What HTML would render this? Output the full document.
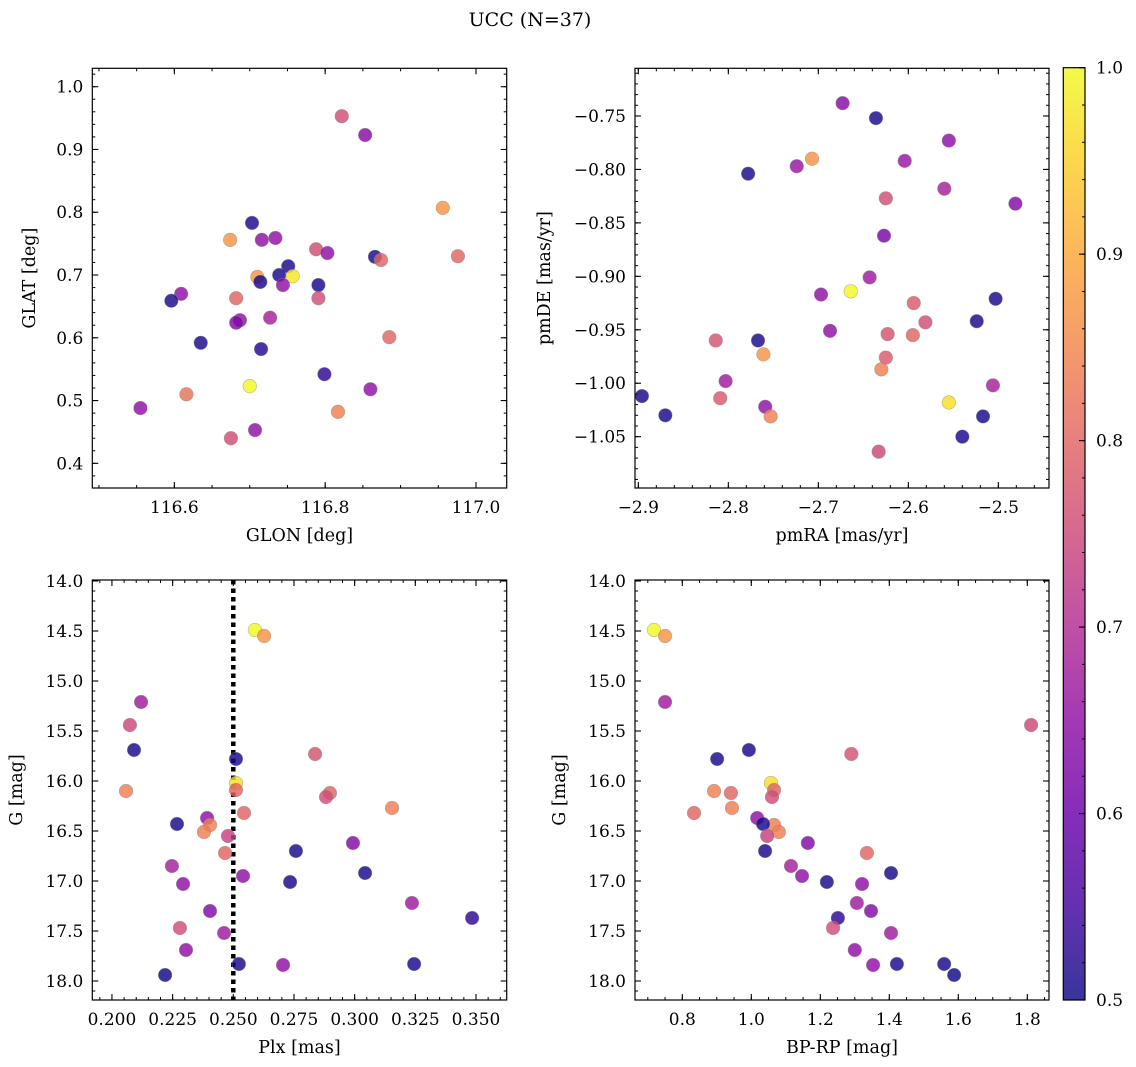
<!DOCTYPE html>
<html><head><meta charset="utf-8">
<style>
html,body{margin:0;padding:0;background:#fff;}
svg{display:block;font-family:"DejaVu Serif","Liberation Serif",serif;}
</style></head>
<body>
<svg id="fig" width="1136" height="1067" viewBox="0 0 1136 1067" xmlns="http://www.w3.org/2000/svg">
<defs>
<linearGradient id="plasma" x1="0" y1="1" x2="0" y2="0">
<stop offset="0" stop-color="#0d0887"/><stop offset="0.1" stop-color="#41049d"/><stop offset="0.2" stop-color="#6a00a8"/><stop offset="0.3" stop-color="#8f0da4"/><stop offset="0.4" stop-color="#b12a90"/><stop offset="0.5" stop-color="#cc4778"/><stop offset="0.6" stop-color="#e16462"/><stop offset="0.7" stop-color="#f2844b"/><stop offset="0.8" stop-color="#fca636"/><stop offset="0.9" stop-color="#fcce25"/><stop offset="1" stop-color="#f0f921"/>
</linearGradient>
</defs>
<text x="530" y="26" font-size="19" text-anchor="middle">UCC (N=37)</text>
</svg>
<script>
// ---- Panel 1: GLON vs GLAT ----
const glon = [116.822,116.853,116.703,116.956,116.674,116.716,116.734,116.788,116.803,116.866,116.874,116.976,116.751,116.739,116.710,116.757,116.714,116.744,116.791,116.609,116.596,116.682,116.791,116.687,116.682,116.727,116.885,116.635,116.715,116.799,116.700,116.616,116.860,116.555,116.817,116.707,116.675];
const glat = [0.953,0.923,0.783,0.807,0.756,0.756,0.759,0.741,0.735,0.729,0.724,0.730,0.714,0.700,0.697,0.698,0.689,0.684,0.684,0.670,0.659,0.663,0.663,0.628,0.624,0.632,0.601,0.592,0.582,0.542,0.523,0.510,0.518,0.488,0.482,0.453,0.440];
const prob1 = [0.76,0.64,0.51,0.87,0.87,0.65,0.65,0.76,0.65,0.51,0.8,0.8,0.51,0.51,0.87,0.98,0.51,0.65,0.51,0.65,0.51,0.8,0.76,0.65,0.63,0.68,0.8,0.51,0.52,0.53,1.0,0.82,0.65,0.65,0.84,0.65,0.76];
// ---- Panel 2: pmRA vs pmDE ----
const pmra = [-2.673,-2.636,-2.555,-2.778,-2.707,-2.724,-2.604,-2.560,-2.625,-2.481,-2.627,-2.643,-2.664,-2.697,-2.594,-2.503,-2.581,-2.524,-2.687,-2.623,-2.595,-2.767,-2.814,-2.625,-2.761,-2.630,-2.803,-2.506,-2.896,-2.809,-2.555,-2.870,-2.759,-2.753,-2.517,-2.540,-2.633];
const pmde = [-0.738,-0.752,-0.773,-0.804,-0.790,-0.797,-0.792,-0.818,-0.827,-0.832,-0.862,-0.901,-0.914,-0.917,-0.925,-0.921,-0.943,-0.942,-0.951,-0.954,-0.955,-0.960,-0.960,-0.976,-0.973,-0.987,-0.998,-1.002,-1.012,-1.014,-1.018,-1.030,-1.022,-1.031,-1.031,-1.050,-1.064];
const prob2 = [0.64,0.51,0.65,0.51,0.87,0.66,0.66,0.68,0.76,0.63,0.62,0.67,1.0,0.65,0.78,0.51,0.76,0.51,0.65,0.77,0.8,0.51,0.77,0.78,0.87,0.84,0.67,0.68,0.51,0.78,0.97,0.51,0.65,0.84,0.51,0.51,0.75];
// ---- Panels 3 & 4: Plx / BP-RP vs G ----
const gmag = [14.49,14.55,15.21,15.44,15.69,15.78,15.73,16.10,16.02,16.09,16.12,16.16,16.27,16.32,16.37,16.44,16.43,16.51,16.55,16.62,16.70,16.72,16.85,16.92,16.95,17.03,17.01,17.22,17.30,17.37,17.47,17.52,17.69,17.94,17.83,17.84,17.83];
const plx = [0.2589,0.2627,0.2120,0.2074,0.2091,0.2511,0.2837,0.2058,0.2511,0.2511,0.2898,0.2882,0.3154,0.2544,0.2392,0.2404,0.2268,0.2379,0.2478,0.2993,0.2758,0.2466,0.2247,0.3043,0.2540,0.2293,0.2734,0.3236,0.2404,0.3484,0.2280,0.2462,0.2305,0.2219,0.2523,0.2705,0.3245];
const bprp = [0.718,0.750,0.750,1.811,0.993,0.901,1.290,0.892,1.057,1.066,0.941,1.060,0.944,0.834,1.017,1.066,1.034,1.080,1.046,1.164,1.040,1.335,1.115,1.405,1.147,1.321,1.219,1.306,1.347,1.251,1.237,1.405,1.300,1.588,1.559,1.353,1.422];
const prob34 = [1.0,0.87,0.67,0.75,0.51,0.51,0.77,0.84,0.97,0.8,0.8,0.76,0.84,0.8,0.65,0.84,0.51,0.84,0.74,0.63,0.51,0.8,0.68,0.51,0.65,0.65,0.51,0.67,0.63,0.53,0.76,0.67,0.65,0.5,0.51,0.65,0.51];
const plxLine = [0.25];
// tick labels
const ticks1x = [116.6,116.8,117.0];
const ticks1y = [0.4,0.5,0.6,0.7,0.8,0.9,1.0];
const ticks2x = [-2.9,-2.8,-2.7,-2.6,-2.5];
const ticks2y = [-0.75,-0.80,-0.85,-0.90,-0.95,-1.00,-1.05];
const ticks3x = [0.200,0.225,0.250,0.275,0.300,0.325,0.350];
const ticksG = [14.0,14.5,15.0,15.5,16.0,16.5,17.0,17.5,18.0];
const ticks4x = [0.8,1.0,1.2,1.4,1.6,1.8];
const ticksCb = [0.5,0.6,0.7,0.8,0.9,1.0];

const NS = "http://www.w3.org/2000/svg";
const svg = document.getElementById('fig');
const stops = ["#0d0887","#41049d","#6a00a8","#8f0da4","#b12a90","#cc4778","#e16462","#f2844b","#fca636","#fcce25","#f0f921"];
function hex(h){return [parseInt(h.slice(1,3),16),parseInt(h.slice(3,5),16),parseInt(h.slice(5,7),16)];}
function plasma(p){
  let t=Math.max(0,Math.min(1,(p-0.5)/0.5))*10;
  let i=Math.min(9,Math.floor(t)), f=t-i;
  const a=hex(stops[i]), b=hex(stops[i+1]);
  return 'rgb('+a.map((v,k)=>Math.round(v+(b[k]-v)*f)).join(',')+')';
}
function el(tag, attrs, parent){
  const e=document.createElementNS(NS,tag);
  for(const k in attrs) e.setAttribute(k,attrs[k]);
  (parent||svg).appendChild(e); return e;
}
function fmt(v,d){return (v<0?'\u2212':'')+Math.abs(v).toFixed(d);}

function panel(cfg){
  const g=el('g',{});
  
  
  const sx=v=>cfg.L+(v-cfg.xmin)/(cfg.xmax-cfg.xmin)*(cfg.R-cfg.L);
  const sy=v=>cfg.B-(v-cfg.ybot)/(cfg.ytop-cfg.ybot)*(cfg.B-cfg.T);
  const mt=el('g',{stroke:'#000','stroke-width':1},g);
  
  
  const xlo=Math.min(cfg.xmin,cfg.xmax), xhi=Math.max(cfg.xmin,cfg.xmax);
  for(let v=Math.ceil(xlo/cfg.xminor)*cfg.xminor; v<=xhi; v+=cfg.xminor){
    const x=sx(v);
    el('line',{x1:x,x2:x,y1:cfg.B,y2:cfg.B-3},mt); el('line',{x1:x,x2:x,y1:cfg.T,y2:cfg.T+3},mt);
  }
  const ylo=Math.min(cfg.ybot,cfg.ytop), yhi=Math.max(cfg.ybot,cfg.ytop);
  for(let v=Math.ceil(ylo/cfg.yminor)*cfg.yminor; v<=yhi; v+=cfg.yminor){
    const y=sy(v);
    el('line',{x1:cfg.L,x2:cfg.L+3,y1:y,y2:y},mt); el('line',{x1:cfg.R,x2:cfg.R-3,y1:y,y2:y},mt);
  }
  cfg.xt.forEach(v=>{
    const x=sx(v);
    el('line',{x1:x,x2:x,y1:cfg.B,y2:cfg.B-6,stroke:'#000','stroke-width':1.1},g);
    el('line',{x1:x,x2:x,y1:cfg.T,y2:cfg.T+6,stroke:'#000','stroke-width':1.1},g);
    const t=el('text',{x:x,y:cfg.B+25,'font-size':17,'text-anchor':'middle'},g);
    t.textContent=fmt(v,cfg.xd);
    
    
  });
  cfg.yt.forEach(v=>{
    const y=sy(v);
    el('line',{x1:cfg.L,x2:cfg.L+6,y1:y,y2:y,stroke:'#000','stroke-width':1.1},g);
    el('line',{x1:cfg.R,x2:cfg.R-6,y1:y,y2:y,stroke:'#000','stroke-width':1.1},g);
    const t=el('text',{x:cfg.L-9,y:y+6,'font-size':17,'text-anchor':'end'},g);
    t.textContent=fmt(v,cfg.yd);
    
    
  });
  if(cfg.vline){
    cfg.vline.forEach(v=>{
      const l=el('line',{x1:sx(v),x2:sx(v),y1:cfg.T,y2:cfg.B,stroke:'#000','stroke-width':4.5,'stroke-dasharray':'4.5,4'},g);
      
      
    });
  }
  const pts=el('g',{},g);
  
  
  cfg.xs.forEach((xv,i)=>{
    const c=el('circle',{cx:sx(xv),cy:sy(cfg.ys[i]),r:6.8,fill:plasma(cfg.c[i]),'fill-opacity':0.82,stroke:'#888','stroke-opacity':0.6,'stroke-width':0.6},pts);
    
    
  });
  const fr=el('rect',{x:cfg.L,y:cfg.T,width:cfg.R-cfg.L,height:cfg.B-cfg.T,fill:'none',stroke:'#000','stroke-width':1.2},g);
  
  
  const xl=el('text',{x:(cfg.L+cfg.R)/2,y:cfg.B+53,'font-size':17.5,'text-anchor':'middle'},g);
  xl.textContent=cfg.xlabel;
  
  
  const yx=cfg.ylx, yy=(cfg.T+cfg.B)/2;
  const yl=el('text',{x:yx,y:yy,'font-size':17.5,'text-anchor':'middle',transform:'rotate(-90 '+yx+' '+yy+')'},g);
  yl.textContent=cfg.ylabel;
  
  
}

panel({name:'glon-glat-panel',L:92.3,R:506.7,T:68.3,B:488,xmin:116.4912,xmax:117.0407,ybot:0.3607,ytop:1.0293,
  xt:ticks1x,yt:ticks1y,xd:1,yd:1,xminor:0.05,yminor:0.02,xs:glon,ys:glat,c:prob1,xlabel:'GLON [deg]',ylabel:'GLAT [deg]',ylx:35});
panel({name:'pm-panel',L:635,R:1049,T:68.3,B:488,xmin:-2.9037,xmax:-2.4437,ybot:-1.098,ytop:-0.7054,
  xt:ticks2x,yt:ticks2y,xd:1,yd:2,xminor:0.02,yminor:0.01,xs:pmra,ys:pmde,c:prob2,xlabel:'pmRA [mas/yr]',ylabel:'pmDE [mas/yr]',ylx:550});
panel({name:'plx-g-panel',L:92.3,R:506.7,T:580,B:1000,xmin:0.1919,xmax:0.36265,ybot:18.19,ytop:13.99,
  xt:ticks3x,yt:ticksG,xd:3,yd:1,xminor:0.005,yminor:0.1,xs:plx,ys:gmag,c:prob34,xlabel:'Plx [mas]',ylabel:'G [mag]',ylx:22,vline:plxLine});
panel({name:'cmd-panel',L:635,R:1049,T:580,B:1000,xmin:0.6629,xmax:1.8629,ybot:18.19,ytop:13.99,
  xt:ticks4x,yt:ticksG,xd:1,yd:1,xminor:0.05,yminor:0.1,xs:bprp,ys:gmag,c:prob34,xlabel:'BP-RP [mag]',ylabel:'G [mag]',ylx:565});

const cb=el('g',{});


const cbT=67.7, cbB=1000, cbL=1063.3, cbR=1085;
const cy=v=>cbB-(v-0.5)/0.5*(cbB-cbT);
const cbr=el('rect',{x:cbL,y:cbT,width:cbR-cbL,height:cbB-cbT,fill:'url(#plasma)','fill-opacity':0.82,stroke:'#000','stroke-width':1.2},cb);


for(let v=0.5; v<=1.0001; v+=0.02){
  el('line',{x1:cbR,x2:cbR-3,y1:cy(v),y2:cy(v),stroke:'#000','stroke-width':1},cb);
}
ticksCb.forEach(v=>{
  el('line',{x1:cbR,x2:cbR-6,y1:cy(v),y2:cy(v),stroke:'#000','stroke-width':1.1},cb);
  const t=el('text',{x:cbR+11,y:cy(v)+6,'font-size':17},cb);
  t.textContent=v.toFixed(1);
  
  
});
</script>
</body></html>
